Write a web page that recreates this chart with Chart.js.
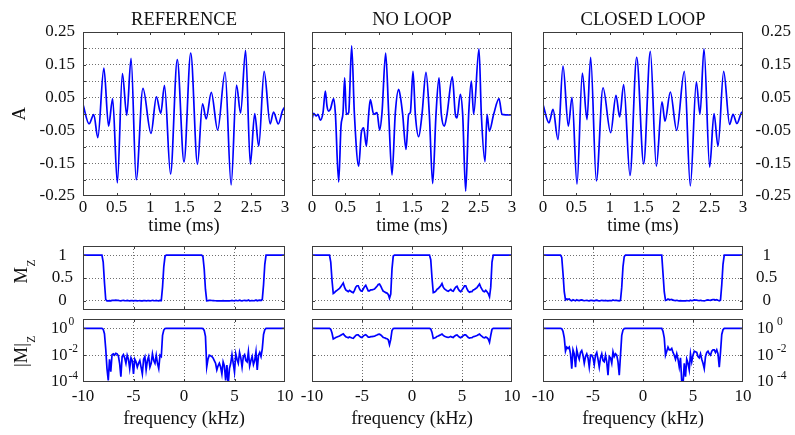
<!DOCTYPE html>
<html>
<head>
<meta charset="utf-8">
<script src="https://cdn.jsdelivr.net/npm/chart.js@4.4.1/dist/chart.umd.min.js"></script>
<style>
  html, body { margin: 0; padding: 0; background: #fff; }
  #fig { position: relative; width: 795px; height: 435px; overflow: hidden; background: #fff; }
  #fig canvas { position: absolute; left: 0; top: 0; }
</style>
</head>
<body>
<div id="fig"></div>
<script>
// ---- data -------------------------------------------------------------

const panelTitles = ['REFERENCE', 'NO LOOP', 'CLOSED LOOP'];

// time traces: turning points of each waveform (ms, amplitude)
const refT = [0, 0.09, 0.16, 0.22, 0.31, 0.38, 0.44, 0.51, 0.585, 0.65, 0.714, 0.79, 0.89, 1.01, 1.09, 1.155, 1.21, 1.30, 1.40, 1.50, 1.60, 1.70, 1.775, 1.83, 1.905, 2.0, 2.11, 2.20, 2.28, 2.34, 2.415, 2.485, 2.55, 2.61, 2.69, 2.78, 2.83, 2.90, 2.965, 3.0];
const refA = [0.029, -0.03, -0.002, -0.072, 0.14, -0.037, 0.047, -0.21, 0.123, -0.004, 0.17, -0.2, 0.078, -0.059, 0.052, 0.002, 0.087, -0.183, 0.166, -0.146, 0.186, -0.153, 0.031, -0.015, 0.066, -0.049, 0.128, -0.216, 0.088, 0.003, 0.194, -0.153, 0.001, -0.098, 0.13, -0.03, 0.006, -0.03, 0.011, 0.022];

const noLoopT = [0, 0.025, 0.065, 0.09, 0.125, 0.165, 0.2, 0.225, 0.25, 0.275, 0.325, 0.35, 0.4, 0.435, 0.465, 0.49, 0.515, 0.55, 0.595, 0.635, 0.7, 0.74, 0.775, 0.815, 0.85, 0.875, 0.925, 0.975, 1.015, 1.05, 1.105, 1.15, 1.2, 1.25, 1.3, 1.325, 1.36, 1.41, 1.45, 1.475, 1.515, 1.55, 1.6, 1.65, 1.71, 1.76, 1.81, 1.86, 1.905, 1.94, 1.985, 2.025, 2.105, 2.15, 2.175, 2.225, 2.26, 2.305, 2.35, 2.39, 2.425, 2.505, 2.54, 2.595, 2.625, 2.66, 2.725, 2.805, 2.85, 2.975, 3.0];
const noLoopA = [-0.017, 0.002, -0.006, -0.001, -0.019, 0.004, 0.07, 0.024, 0.009, 0.014, 0.047, 0.004, -0.207, -0.037, 0.004, 0.11, -0.001, 0.004, 0.208, 0.004, -0.159, -0.057, -0.042, -0.098, -0.001, 0.044, -0.001, 0.004, -0.049, 0.004, 0.186, 0.004, -0.186, 0.004, 0.075, 0.054, -0.001, -0.108, -0.001, 0.004, 0.13, -0.001, -0.069, -0.001, 0.127, -0.001, -0.212, -0.001, 0.11, -0.001, -0.037, -0.001, 0.113, -0.001, -0.012, 0.06, -0.001, -0.235, -0.001, 0.1, -0.001, 0.199, -0.001, -0.145, -0.001, -0.052, -0.001, 0.047, -0.001, -0.003, -0.001];

const closedT = [0, 0.09, 0.15, 0.225, 0.30, 0.38, 0.435, 0.51, 0.59, 0.66, 0.715, 0.80, 0.90, 1.015, 1.095, 1.15, 1.21, 1.305, 1.405, 1.51, 1.61, 1.70, 1.785, 1.83, 1.91, 2.005, 2.12, 2.21, 2.30, 2.355, 2.415, 2.50, 2.565, 2.625, 2.71, 2.80, 2.85, 2.91, 2.985, 3.0];
const closedA = [0.029, -0.027, 0.014, -0.078, 0.146, -0.037, 0.051, -0.214, 0.125, -0.017, 0.173, -0.204, 0.080, -0.057, 0.057, -0.009, 0.090, -0.187, 0.173, -0.152, 0.191, -0.159, 0.037, -0.022, 0.067, -0.050, 0.130, -0.219, 0.097, -0.001, 0.199, -0.162, 0.001, -0.098, 0.130, -0.032, -0.001, -0.029, 0.006, 0.001];

// frequency responses, sampled every 0.125 kHz from -10 to 10 kHz
const freqKHz = [];
for (let i = 0; i <= 160; i++) freqKHz.push(-10 + i * 0.125);

const refMz = [
  1, 1, 1, 1, 1, 1, 1, 1, 1, 1, 1, 1, 1, 1, 1, 1, 0.85, 0.4,
  0.03, 1e-3, 1.3e-4, 5e-3, 6e-4, 0.011, 0.0126, 0.01, 0.014, 0.0126, 0.009, 0.0025, 2.5e-4, 0.008, 0.011,
  0.0063, 0.0025, 0.01, 0.005, 1e-3, 0.0063, 0.004, 4e-4, 0.005, 0.0032, 0.0013, 0.0025, 0.004, 0.0013, 4e-4,
  0.005, 0.008, 8e-4, 0.004, 0.008, 0.0013, 0.0025, 0.0126, 0.004, 0.0025, 0.01, 0.0025, 1e-3, 0.01, 0.008,
  0.3, 0.75, 0.98,
  1, 1, 1, 1, 1, 1, 1, 1, 1, 1, 1, 1, 1, 1, 1, 1, 1, 1, 1, 1, 1, 1, 1, 1, 1, 1, 1, 1, 1,
  0.97, 0.7, 0.25,
  0.0013, 0.005, 0.01, 0.0089, 0.008, 0.0063, 0.004, 0.0025, 8e-4, 0.0016, 0.0025, 0.0013, 4e-4, 0.0032, 0.0016,
  1.3e-4, 0.0018, 6e-5, 1e-3, 0.0025, 0.011, 0.0025, 5.6e-4, 0.0126, 0.005, 0.0025, 0.016, 0.0063, 0.0013, 0.008,
  0.011, 0.004, 0.0032, 0.018, 0.0016, 0.004, 0.008, 0.002, 0.004, 0.018, 8e-4, 0.01, 0.016, 0.008, 0.03,
  0.35, 0.8,
  1, 1, 1, 1, 1, 1, 1, 1, 1, 1, 1, 1, 1, 1, 1, 1
];

const noLoopMz = [
  1, 1, 1, 1, 1, 1, 1, 1, 1, 1, 1, 1, 1, 1, 1, 0.85, 0.45, 0.16,
  0.18, 0.21, 0.23, 0.25, 0.27, 0.31, 0.35, 0.39, 0.3, 0.24, 0.22, 0.2, 0.23, 0.21, 0.19,
  0.18, 0.23, 0.3, 0.33, 0.33, 0.26, 0.22, 0.21, 0.26, 0.31, 0.34, 0.28, 0.22, 0.22, 0.24,
  0.24, 0.25, 0.26, 0.29, 0.32, 0.36, 0.37, 0.32, 0.26, 0.21, 0.2, 0.18, 0.17, 0.14, 0.06,
  0.15, 0.7, 0.98,
  1, 1, 1, 1, 1, 1, 1, 1, 1, 1, 1, 1, 1, 1, 1, 1, 1, 1, 1, 1, 1, 1, 1, 1, 1, 1, 1, 1, 1,
  0.9, 0.5, 0.18,
  0.19, 0.21, 0.25, 0.27, 0.3, 0.33, 0.38, 0.3, 0.26, 0.24, 0.22, 0.21, 0.23, 0.25, 0.22,
  0.21, 0.26, 0.3, 0.32, 0.26, 0.22, 0.2, 0.24, 0.28, 0.33, 0.33, 0.26, 0.21, 0.19, 0.2,
  0.2, 0.24, 0.25, 0.27, 0.29, 0.33, 0.37, 0.3, 0.25, 0.21, 0.2, 0.23, 0.2, 0.16, 0.09,
  0.3, 0.85,
  1, 1, 1, 1, 1, 1, 1, 1, 1, 1, 1, 1, 1, 1, 1, 1
];

const closedMz = [
  1, 1, 1, 1, 1, 1, 1, 1, 1, 1, 1, 1, 1, 1, 1, 0.95, 0.6, 0.2,
  0.02, 0.04, 0.032, 0.04, 0.0126, 1e-3, 0.025, 0.0126, 0.0013, 0.025, 0.01, 0.005, 0.016, 0.022, 0.01,
  0.0025, 0.008, 0.0126, 0.0063, 0.0013, 0.01, 0.01, 0.0063, 0.002, 0.01, 0.016, 0.005, 0.0013, 0.0063, 0.0126,
  0.004, 0.0032, 0.01, 0.0032, 3.2e-4, 0.008, 0.0063, 0.0025, 0.018, 0.008, 0.0126, 0.01, 0.0032, 3.2e-4, 0.01,
  0.3, 0.75, 0.97,
  1, 1, 1, 1, 1, 1, 1, 1, 1, 1, 1, 1, 1, 1, 1, 1, 1, 1, 1, 1, 1, 1, 1, 1, 1, 1, 1, 1, 1, 1,
  0.6, 0.2,
  0.01, 0.02, 0.04, 0.025, 0.025, 0.032, 0.016, 0.01, 0.005, 0.0126, 0.005, 0.0013, 0.0063, 1e-4, 6e-5,
  0.0025, 2.5e-4, 0.005, 0.0025, 8e-4, 0.0126, 0.0032, 0.01, 0.02, 0.018, 0.016, 0.008, 0.0063, 0.0126, 0.005,
  0.0025, 1e-3, 0.008, 0.016, 0.02, 0.0126, 0.01, 0.02, 0.025, 0.025, 0.016, 0.025, 0.0126, 0.0013, 0.016,
  0.35, 0.8,
  1, 1, 1, 1, 1, 1, 1, 1, 1, 1, 1, 1, 1, 1, 1, 1
];

// ticks
const timeTicks = [0, 0.5, 1, 1.5, 2, 2.5, 3];
const ampTicks = [-0.25, -0.2, -0.15, -0.1, -0.05, 0, 0.05, 0.1, 0.15, 0.2, 0.25];
const ampLabelled = [-0.25, -0.15, -0.05, 0.05, 0.15, 0.25];
const freqTicks = [-10, -5, 0, 5, 10];
const mzTicks = [0, 0.5, 1];
const logTicks = [1e-4, 1e-2, 1];
const logExponents = ['-4', '-2', '0'];

// ---- layout ---------------------------------------------------------

const W = 795, H = 435;
const BLUE = '#0000ff';
const FRAME = '#3c3c3c';
const GRID = 'rgba(50,50,50,0.7)';
const TEXT = '#111';
const SERIF = '"Liberation Serif", "Times New Roman", Times, serif';

const cols = [{ l: 83, r: 285 }, { l: 312, r: 512 }, { l: 543, r: 743 }];
const rows = { sig: { t: 32, b: 196 }, mz: { t: 246, b: 310 }, log: { t: 319, b: 382 } };

Chart.defaults.font.family = SERIF;
Chart.defaults.color = TEXT;

const fig = document.getElementById('fig');

// scale boxes get a fixed size so the plot area lands on the frame
function fixedSize(size) {
  return function (scale) {
    if (scale.isHorizontal()) scale.height = size; else scale.width = size;
    scale.paddingLeft = 0; scale.paddingRight = 0;
    scale.paddingTop = 0; scale.paddingBottom = 0;
  };
}

function setTicks(values) {
  return function (scale) { scale.ticks = values.map(v => ({ value: v })); };
}

function innerGrid(lo, hi) {
  return ctx => (ctx.tick && (ctx.tick.value === lo || ctx.tick.value === hi)) ? 'rgba(0,0,0,0)' : GRID;
}

// frame, inner tick marks, titles and the log-axis powers of ten
const panelDecor = {
  id: 'panelDecor',
  afterDraw(chart, args, o) {
    const { ctx, chartArea: a, scales } = chart;
    const xs = scales.x, ys = scales.y;
    ctx.save();
    ctx.strokeStyle = FRAME;
    ctx.lineWidth = 1;
    ctx.beginPath();
    xs.ticks.forEach(tk => {
      if (tk.value === xs.min || tk.value === xs.max) return;
      const px = Math.round(xs.getPixelForValue(tk.value)) + 0.5;
      ctx.moveTo(px, a.bottom); ctx.lineTo(px, a.bottom - 3);
      ctx.moveTo(px, a.top); ctx.lineTo(px, a.top + 3);
    });
    ys.ticks.forEach(tk => {
      if (tk.value === ys.min || tk.value === ys.max) return;
      const py = Math.round(ys.getPixelForValue(tk.value)) + 0.5;
      ctx.moveTo(a.left, py); ctx.lineTo(a.left + 3, py);
      ctx.moveTo(a.right, py); ctx.lineTo(a.right - 3, py);
    });
    ctx.stroke();
    ctx.strokeRect(a.left + 0.5, a.top + 0.5, a.right - a.left - 1, a.bottom - a.top - 1);

    ctx.fillStyle = TEXT;
    const cx = (a.left + a.right) / 2;
    if (o.title) {
      ctx.font = '18.5px ' + SERIF;
      ctx.textAlign = 'center';
      ctx.textBaseline = 'alphabetic';
      ctx.fillText(o.title, cx, 25);
    }
    if (o.xLabel) {
      ctx.font = '18.5px ' + SERIF;
      ctx.textAlign = 'center';
      ctx.textBaseline = 'alphabetic';
      ctx.fillText(o.xLabel.text, cx, o.xLabel.y);
    }
    if (o.yLabel) {
      const yl = o.yLabel;
      ctx.save();
      ctx.translate(yl.x, yl.y);
      ctx.rotate(-Math.PI / 2);
      ctx.textAlign = 'left';
      ctx.textBaseline = 'alphabetic';
      ctx.font = '18.5px ' + SERIF;
      ctx.fillText(yl.main, 0, 0);
      if (yl.sub) {
        const w = ctx.measureText(yl.main).width;
        ctx.font = '11.5px ' + SERIF;
        ctx.fillText(yl.sub, w + 0.5, 8);
      }
      ctx.restore();
    }
    if (o.powers) {
      const side = o.powers;
      logTicks.forEach((v, i) => {
        const py = ys.getPixelForValue(v);
        ctx.textBaseline = 'middle';
        ctx.font = '16.5px ' + SERIF;
        if (side === 'left') {
          ctx.textAlign = 'right';
          ctx.fillText('10', 67.5, py);
          ctx.textAlign = 'left';
          ctx.font = '11.5px ' + SERIF;
          ctx.textBaseline = 'alphabetic';
          ctx.fillText(logExponents[i], 68.5, py - 3);
        } else {
          ctx.textAlign = 'left';
          ctx.fillText('10', 757, py);
          ctx.font = '11.5px ' + SERIF;
          ctx.textBaseline = 'alphabetic';
          ctx.fillText(logExponents[i], 777, py - 3);
        }
      });
    }
    ctx.restore();
  }
};

function makePanel(spec) {
  const cv = document.createElement('canvas');
  cv.width = W;
  cv.height = H;
  fig.appendChild(cv);

  const side = spec.ySide;
  const yW = spec.yWidth || 0;
  const xH = spec.xLabels ? 30 : 0;
  const padding = {
    left: side === 'left' ? spec.l - yW : spec.l,
    right: side === 'right' ? W - spec.r - yW : W - spec.r,
    top: spec.t,
    bottom: H - spec.b - xH
  };

  return new Chart(cv, {
    type: 'line',
    data: {
      datasets: [{
        data: spec.points,
        borderColor: BLUE,
        borderWidth: 1.7,
        pointRadius: 0,
        fill: false,
        tension: 0,
        cubicInterpolationMode: spec.smooth ? 'monotone' : 'default'
      }]
    },
    options: {
      responsive: false,
      animation: false,
      devicePixelRatio: 1,
      events: [],
      layout: { padding },
      plugins: {
        legend: { display: false },
        tooltip: { enabled: false },
        panelDecor: spec.decor
      },
      scales: {
        x: {
          type: 'linear',
          position: 'bottom',
          min: spec.xMin, max: spec.xMax,
          afterBuildTicks: setTicks(spec.xTicks),
          afterFit: fixedSize(xH),
          ticks: {
            display: !!spec.xLabels,
            padding: spec.xPad || 1,
            autoSkip: false,
            maxRotation: 0,
            font: { size: 17 },
            color: TEXT,
            callback: v => String(v)
          },
          grid: { display: spec.xGrid, drawTicks: false, color: innerGrid(spec.xMin, spec.xMax), lineWidth: 1 },
          border: { display: false, dash: [1, 2] }
        },
        y: {
          type: spec.yType,
          position: side === 'right' ? 'right' : 'left',
          min: spec.yMin, max: spec.yMax,
          afterBuildTicks: setTicks(spec.yTicks),
          afterFit: fixedSize(yW),
          ticks: {
            display: !!spec.yLabels,
            padding: spec.yPad || 0,
            crossAlign: spec.yAlign || 'near',
            font: { size: 17 },
            color: TEXT,
            autoSkip: false,
            callback: spec.yLabels || (() => '')
          },
          grid: { display: true, drawTicks: false, color: innerGrid(spec.yMin, spec.yMax), lineWidth: 1 },
          border: { display: false, dash: [1, 2] }
        }
      }
    },
    plugins: [panelDecor]
  });
}

const signals = [[refT, refA], [noLoopT, noLoopA], [closedT, closedA]];
const spectra = [refMz, noLoopMz, closedMz];
const sides = ['left', null, 'right'];

const ampLabel = v => ampLabelled.includes(v) ? v.toFixed(2) : '';
const mzLabel = v => String(v);

cols.forEach((c, k) => {
  const side = sides[k];
  const [tArr, aArr] = signals[k];

  // time trace
  makePanel({
    l: c.l, r: c.r, t: rows.sig.t, b: rows.sig.b,
    points: tArr.map((t, i) => ({ x: t, y: aArr[i] })),
    smooth: true,
    xMin: 0, xMax: 3, xTicks: timeTicks, xLabels: true, xGrid: false, xPad: 1,
    yType: 'linear', yMin: -0.25, yMax: 0.25, yTicks: ampTicks,
    ySide: side,
    yWidth: side ? 48 : 0,
    yLabels: side ? ampLabel : null,
    yPad: side === 'left' ? 8 : 0,
    yAlign: side === 'right' ? 'far' : 'near',
    decor: {
      title: panelTitles[k],
      xLabel: { text: 'time (ms)', y: 231 },
      yLabel: side === 'left' ? { main: 'A', x: 25, y: 120.5 } : null
    }
  });

  // linear Mz
  makePanel({
    l: c.l, r: c.r, t: rows.mz.t, b: rows.mz.b,
    points: freqKHz.map((f, i) => ({ x: f, y: spectra[k][i] })),
    smooth: false,
    xMin: -10, xMax: 10, xTicks: freqTicks, xLabels: false, xGrid: true,
    yType: 'linear', yMin: -0.2, yMax: 1.2, yTicks: mzTicks,
    ySide: side,
    yWidth: side ? 45 : 0,
    yLabels: side ? mzLabel : null,
    yPad: side === 'left' ? 10 : 13,
    yAlign: 'center',
    decor: {
      yLabel: side === 'left' ? { main: 'M', sub: 'Z', x: 26.5, y: 283.5 } : null
    }
  });

  // |Mz| on log axis
  makePanel({
    l: c.l, r: c.r, t: rows.log.t, b: rows.log.b,
    points: freqKHz.map((f, i) => ({ x: f, y: spectra[k][i] })),
    smooth: false,
    xMin: -10, xMax: 10, xTicks: freqTicks, xLabels: true, xGrid: true, xPad: 4,
    yType: 'logarithmic', yMin: 1e-4, yMax: 5, yTicks: logTicks,
    ySide: side,
    yLabels: null,
    decor: {
      xLabel: { text: 'frequency (kHz)', y: 424 },
      yLabel: side === 'left' ? { main: '|M|', sub: 'Z', x: 26.5, y: 367 } : null,
      powers: side
    }
  });
});
</script>
</body>
</html>
